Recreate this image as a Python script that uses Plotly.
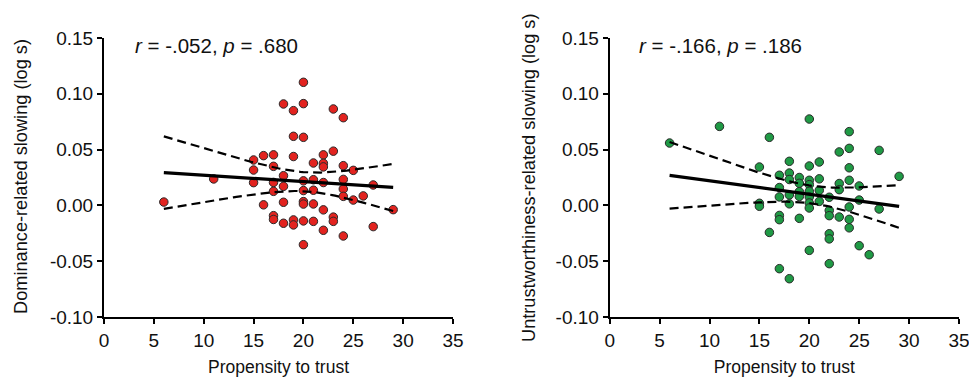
import numpy as np
import plotly.graph_objects as go

# ---------------- data ----------------
trust_dom = [6, 11,
             15, 15, 15,
             16, 16,
             17, 17, 17, 17, 17, 17,
             18, 18, 18, 18, 18,
             19, 19, 19, 19, 19,
             20, 20, 20, 20, 20, 20, 20, 20, 20,
             21, 21, 21, 21, 21,
             22, 22, 22, 22, 22, 22,
             23, 23, 23, 23,
             24, 24, 24, 24, 24, 24,
             25, 25,
             26,
             27, 27,
             29]
dominance = [0.003, 0.0237,
             0.0407, 0.0317, 0.0204,
             0.0446, 0.0005,
             0.0453, 0.0350, 0.0206, 0.0126, -0.0092, -0.0126,
             0.0909, 0.0266, 0.0171, 0.0028, -0.0160,
             0.0849, 0.0619, 0.0438, -0.0130, -0.0175,
             0.1103, 0.0912, 0.0610, 0.0220, 0.0133, 0.0034, 0.0012, -0.0139, -0.0352,
             0.0380, 0.0230, 0.0136, 0.0013, -0.0143,
             0.0453, 0.0377, 0.0345, 0.0205, -0.0040, -0.0223,
             0.0864, 0.0486, -0.0105, -0.0143,
             0.0786, 0.0356, 0.0233, 0.0147, 0.0081, -0.0274,
             0.0314, 0.0048,
             0.0085,
             0.0183, -0.0190,
             -0.0038]

trust_unt = [6, 11,
             15, 15, 15,
             16, 16,
             17, 17, 17, 17, 17, 17,
             18, 18, 18, 18, 18, 18,
             19, 19, 19, 19, 19,
             20, 20, 20, 20, 20, 20, 20, 20, 20,
             21, 21, 21, 21,
             22, 22, 22, 22, 22, 22,
             23, 23, 23, 23,
             24, 24, 24, 24, 24, 24, 24,
             25, 25, 25,
             26,
             27, 27,
             29]
untrust = [0.0559, 0.0708,
           0.0344, 0.0019, -0.0008,
           0.0610, -0.0242,
           0.0270, 0.0160, 0.0076, -0.0090, -0.0128, -0.0567,
           0.0395, 0.0290, 0.0232, 0.0094, 0.0014, -0.0657,
           0.0250, 0.0198, 0.0123, 0.0080, -0.0116,
           0.0774, 0.0353, 0.0225, 0.0186, 0.0126, 0.0075, 0.0022, -0.0023, -0.0403,
           0.0389, 0.0238, 0.0135, 0.0036,
           0.0073, -0.0045, -0.0092, -0.0254, -0.0300, -0.0522,
           0.0479, 0.0196, 0.0141, -0.0104,
           0.0661, 0.0511, 0.0337, 0.0225, -0.0014, -0.0125, -0.0201,
           0.0174, 0.0048, -0.0361,
           -0.0442,
           0.0493, -0.0032,
           0.0260]

x_ticks = [0, 5, 10, 15, 20, 25, 30, 35]
x_ticklabels = ["0", "5", "10", "15", "20", "25", "30", "35"]
y_ticks = [-0.10, -0.05, 0.00, 0.05, 0.10, 0.15]
y_ticklabels = ["-0.10", "-0.05", "0.00", "0.05", "0.10", "0.15"]

stats_left = "<i>r</i> = -.052, <i>p</i> = .680"
stats_right = "<i>r</i> = -.166, <i>p</i> = .186"
ytitle_left = "Dominance-related slowing (log s)"
ytitle_right = "Untrustworthiness-related slowing (log s)"
xtitle = "Propensity to trust"

T_CRIT = 2.0  # ~95% two-sided t for df ~ 60

# ---------------- helpers ----------------
W, H = 969, 377
FONT = "Liberation Sans, Arial, Helvetica, sans-serif"


def fit_lines(x, y):
    x = np.asarray(x, float)
    y = np.asarray(y, float)
    n = len(x)
    b, a = np.polyfit(x, y, 1)
    resid = y - (a + b * x)
    s = np.sqrt(np.sum(resid ** 2) / (n - 2))
    xm = x.mean()
    sxx = np.sum((x - xm) ** 2)
    grid = np.linspace(x.min(), x.max(), 80)
    fit = a + b * grid
    se = s * np.sqrt(1.0 / n + (grid - xm) ** 2 / sxx)
    return grid, fit, fit - T_CRIT * se, fit + T_CRIT * se


fig = go.Figure()

panels = [
    (trust_dom, dominance, "#e2231f", "x", "y"),
    (trust_unt, untrust, "#1f9a45", "x2", "y2"),
]
for xs, ys, col, xa, ya in panels:
    g, f, lo, hi = fit_lines(xs, ys)
    fig.add_trace(go.Scatter(x=xs, y=ys, mode="markers", xaxis=xa, yaxis=ya,
                             marker=dict(size=8.5, color=col,
                                         line=dict(color="#2a2a2a", width=1)),
                             showlegend=False, hoverinfo="skip"))
    for band in (lo, hi):
        fig.add_trace(go.Scatter(x=g, y=band, mode="lines", xaxis=xa, yaxis=ya,
                                 line=dict(color="black", width=2.2, dash="9px,5px"),
                                 showlegend=False, hoverinfo="skip"))
    fig.add_trace(go.Scatter(x=g, y=f, mode="lines", xaxis=xa, yaxis=ya,
                             line=dict(color="black", width=3.2),
                             showlegend=False, hoverinfo="skip"))

ydom = [(H - 317) / H, (H - 38) / H]
xdom1 = [104 / W, 453 / W]
xdom2 = [609.7 / W, 959 / W]

xtitle_font = dict(family=FONT, size=17.5, color="#111")
axis_common = dict(showline=True, linecolor="black", linewidth=2, ticks="outside",
                   ticklen=5, tickwidth=2, tickcolor="black", showgrid=False,
                   zeroline=False, tickfont=dict(family=FONT, size=19, color="#111"),
                   ticklabeloverflow="allow", automargin=False)
xtitle_cfg = dict(text=xtitle, font=xtitle_font, standoff=16)

fig.update_layout(
    width=W, height=H, margin=dict(l=0, r=0, t=0, b=0),
    paper_bgcolor="white", plot_bgcolor="white",
    xaxis=dict(domain=xdom1, range=[0, 35], tickvals=x_ticks, ticktext=x_ticklabels,
               anchor="y", title=xtitle_cfg, **axis_common),
    yaxis=dict(domain=ydom, range=[-0.10, 0.15], tickvals=y_ticks, ticktext=y_ticklabels,
               anchor="x", **axis_common),
    xaxis2=dict(domain=xdom2, range=[0, 35], tickvals=x_ticks, ticktext=x_ticklabels,
                anchor="y2", title=xtitle_cfg, **axis_common),
    yaxis2=dict(domain=ydom, range=[-0.10, 0.15], tickvals=y_ticks, ticktext=y_ticklabels,
                anchor="x2", **axis_common),
)

ann_font = dict(family=FONT, size=20.5, color="#111")
ytitle_font = dict(family=FONT, size=18.2, color="#111")
fig.add_annotation(text=stats_left, xref="paper", yref="paper", x=133 / W, y=(H - 45) / H,
                   xanchor="left", yanchor="middle", showarrow=False, font=ann_font)
fig.add_annotation(text=stats_right, xref="paper", yref="paper", x=637 / W, y=(H - 45) / H,
                   xanchor="left", yanchor="middle", showarrow=False, font=ann_font)
fig.add_annotation(text=ytitle_left, xref="paper", yref="paper", x=21 / W, y=(H - 177) / H,
                   xanchor="center", yanchor="middle", textangle=-90, showarrow=False,
                   font=ytitle_font)
fig.add_annotation(text=ytitle_right, xref="paper", yref="paper", x=529 / W, y=(H - 178) / H,
                   xanchor="center", yanchor="middle", textangle=-90, showarrow=False,
                   font=ytitle_font)

fig.write_html("out.html")
